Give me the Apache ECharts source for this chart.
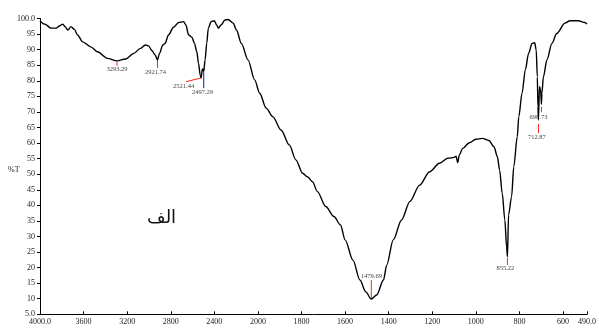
<!DOCTYPE html>
<html>
<head>
<meta charset="utf-8">
<script src="https://cdn.jsdelivr.net/npm/echarts@6/dist/echarts.min.js"></script>
<style>html,body{margin:0;padding:0;background:#fff}#c{width:599px;height:329px}</style>
</head>
<body>
<div id="c"></div>
<script>
// Wavenumbers (cm-1) and transmittance (%T)
const wavenumbers = [4000,3957,3897,3852,3821,3791,3770,3745,3715,3685,3655,3609,3534,3473,3382,3293,3215,3139,3079,3034,3003,2973,2943,2922,2903,2873,2852,2821,2775,2727,2682,2661,2636,2606,2582,2561,2545,2530,2521,2510,2497,2485,2470,2455,2430,2400,2379,2364,2339,2303,2273,2227,2197,2152,2091,2030,1992,1962,1932,1894,1856,1826,1795,1773,1750,1727,1689,1651,1621,1600,1564,1532,1505,1480,1455,1424,1409,1379,1341,1303,1258,1212,1167,1129,1099,1091,1083,1076,1060,1030,1000,970,940,917,901,891,879,867,859,855,850,836,826,810,803,788,773,758,742,730,723,718,715,713,708,703,699,697,690,674,651,629,591,568,530,500,490];
const transmittance = [99.3,98.2,96.9,96.9,97.6,98.2,97.4,96.3,97.4,96.5,94.7,92.5,90.9,89.3,87.2,86.4,87.0,88.8,90.4,91.5,91.2,89.7,88.3,86.7,88.8,91.5,92.0,94.7,97.2,98.7,99.0,97.9,94.7,94.0,92.0,89.3,85.6,81.9,80.9,83.8,83.1,86.7,92.0,96.9,99.0,99.3,97.9,96.9,97.9,99.5,99.7,98.5,96.3,92.0,86.7,80.3,76.0,71.2,68.5,64.2,59.4,54.6,50.3,49.2,47.6,44.4,39.6,36.4,33.7,28.9,22.4,16.0,12.2,9.9,11.2,16.0,20.8,28.9,35.3,41.2,46.5,50.8,53.5,55.1,55.4,55.8,53.7,56.2,58.3,60.1,61.2,61.5,60.8,58.8,55.6,51.3,43.9,35.3,26.7,23.5,36.9,42.8,52.4,62.0,68.5,76.0,83.5,88.8,92.0,92.2,89.9,81.3,71.7,67.4,78.1,77.0,72.5,76.0,81.3,86.7,92.0,95.2,98.5,99.3,99.3,98.7,98.2];

// Peak picks
const peakWn = [3293.29, 2921.74, 2521.44, 2497.29, 1479.69, 855.22, 712.87, 698.73];
const peakT = [86.4, 86.7, 80.9, 83.1, 9.9, 23.5, 67.4, 72.5];
const peakLabels = ['3293.29', '2921.74', '2521.44', '2497.29', '1479.69', '855.22', '712.87', '698.73'];

// Axis tick labels
const yTickLabels = {5: '5.0', 100: '100.0'};
const xFirstLabel = '4000.0';
const xLastLabel = '490.0';
const annotation = 'الف';
const yName = '%T';

// Piecewise spectrum axis: 4000-2000 at 1x, 2000-490 at 2x expansion
function toU(wn) { return wn >= 2000 ? 4000 - wn : 2000 + 2 * (2000 - wn); }
function fromU(u) { return u <= 2000 ? 4000 - u : 2000 - (u - 2000) / 2; }

const lineData = wavenumbers.map((w, i) => [toU(w), transmittance[i]]);
const peakData = peakWn.map((w, i) => [toU(w), peakT[i]]);

// per-peak drawing style (pixel offsets relative to the peak)
const peakStyle = [
  {y1: 1, x2: 0, y2: 5, tx: 0, ty: 8.5, c: '#ff2020'},
  {y1: 0, x2: 0, y2: 8, tx: -2, ty: 12, c: '#ff2020'},
  {y1: 0, x2: -15, y2: 3.7, tx: -17.5, ty: 8.7, c: '#ff2020'},
  {y1: -3, x2: 0, y2: 17, tx: -1.3, ty: 21.5, c: '#1010e0'},
  {y1: -1, x2: 0, y2: -19, tx: 0, ty: -23, c: '#ff2020'},
  {y1: 1.3, x2: 0, y2: 8.3, tx: -2, ty: 11.8, c: '#ff2020'},
  {y1: 4, x2: 0, y2: 13, tx: -1.5, ty: 17.7, c: '#ff2020'},
  {y1: 2.7, x2: 0, y2: 7.7, tx: -3, ty: 12.7, c: '#ff2020'}
];

const serif = '"Liberation Serif", "DejaVu Serif", serif';
const chart = echarts.init(document.getElementById('c'), null, {renderer: 'canvas'});
chart.setOption({
  animation: false,
  backgroundColor: '#ffffff',
  grid: {left: 40, right: 7, top: 18.5, bottom: 14.7},
  xAxis: {
    type: 'value', min: 0, max: toU(490), interval: 400,
    axisLine: {lineStyle: {color: '#000', width: 1}},
    axisTick: {show: true, inside: true, length: 3, lineStyle: {color: '#000'}},
    splitLine: {show: false},
    axisLabel: {
      fontFamily: serif, fontSize: 8, color: '#222', margin: 4,
      showMaxLabel: true, showMinLabel: true,
      formatter: function (u) {
        if (u === 0) return xFirstLabel;
        if (Math.abs(u - toU(490)) < 1e-6) return xLastLabel;
        return String(Math.round(fromU(u)));
      }
    }
  },
  yAxis: {
    type: 'value', min: 5, max: 100, interval: 5,
    axisLine: {show: true, lineStyle: {color: '#000', width: 1}},
    axisTick: {show: true, inside: false, length: 3, lineStyle: {color: '#000'}},
    splitLine: {show: false},
    axisLabel: {
      fontFamily: serif, fontSize: 8, color: '#222', margin: 5,
      formatter: function (v) { return yTickLabels[v] || String(v); }
    }
  },
  graphic: [
    {type: 'text', left: 8, top: 166, style: {text: yName, font: '8px ' + serif, fill: '#222'}},
    {type: 'text', left: 147, top: 209, style: {text: annotation, font: '18px "DejaVu Sans", sans-serif', fill: '#111'}}
  ],
  series: [
    {
      type: 'line', data: lineData, showSymbol: false, smooth: 0.3, smoothMonotone: 'x',
      lineStyle: {color: '#000', width: 1.4}, z: 3
    },
    {
      type: 'custom', data: peakData, clip: false, z: 2,
      renderItem: function (params, api) {
        const p = api.coord([api.value(0), api.value(1)]);
        const s = peakStyle[params.dataIndex];
        return {
          type: 'group',
          children: [
            {type: 'line', shape: {x1: p[0], y1: p[1] + s.y1, x2: p[0] + s.x2, y2: p[1] + s.y2},
             style: {stroke: s.c, lineWidth: 1}},
            {type: 'text', x: p[0] + s.tx, y: p[1] + s.ty,
             style: {text: peakLabels[params.dataIndex], font: '6.5px ' + serif, fill: '#444',
                     align: 'center', verticalAlign: 'middle'}}
          ]
        };
      }
    }
  ]
});
</script>
</body>
</html>
